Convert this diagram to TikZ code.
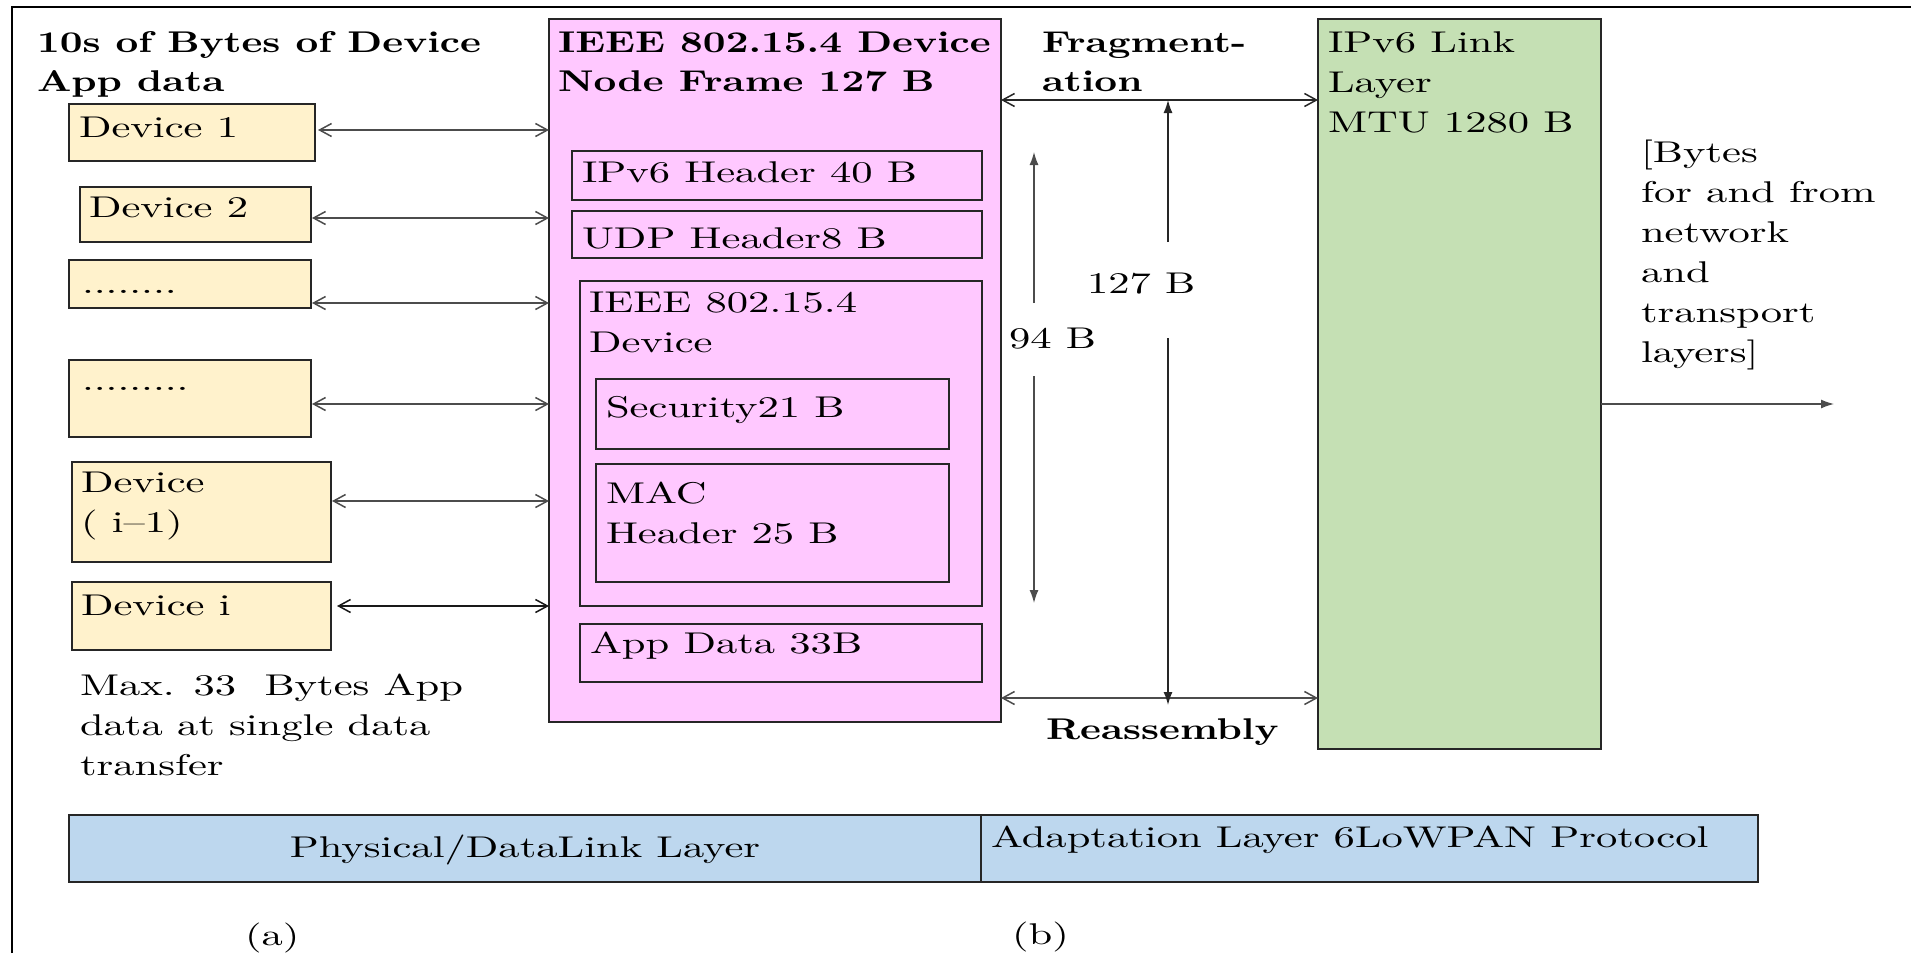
\documentclass[tikz,border=0pt]{standalone}
\usepackage{fontspec}
\setmainfont{lmroman10-regular.otf}[FakeStretch=1.42]
\newfontfamily\bfx{lmroman10-bold.otf}[FakeStretch=1.32]
\usetikzlibrary{arrows.meta}
\definecolor{devfill}{HTML}{FFF2CC}
\definecolor{pinkfill}{HTML}{FFC8FF}
\definecolor{greenfill}{HTML}{C5E0B4}
\definecolor{bluefill}{HTML}{BDD7EE}
\begin{document}
\begin{tikzpicture}[x=1pt,y=-1pt,
  box/.style={draw=black!85, line width=1.6pt, anchor=north west, inner sep=0pt, outer sep=0pt},
  devbox/.style={box, fill=devfill},
  txt/.style={inner sep=0pt, outer sep=0pt, anchor=base west, align=left, font=\fontsize{30}{40}\selectfont},
  btxt/.style={txt, font=\fontsize{30}{39}\selectfont\bfx},
  dbl/.style={draw=black!70, line width=1.5pt, {Straight Barb[length=12pt,width=13pt]}-{Straight Barb[length=12pt,width=13pt]}},
  tri/.style={draw=black!85, line width=1.3pt, -{Latex[length=13pt,width=9pt]}}]
\useasboundingbox (0,0) rectangle (1911,953);
% outer frame (cropped)
\draw[line width=2.4pt] (12,953) -- (12,7) -- (1911,7);

% left title (anchor = baseline of last line)
\node[btxt] (ttl) at (37,91) {10s of Bytes of Device\\App data};

% device boxes
\node[devbox, minimum width=246pt, minimum height=57pt] (d1) at (69,104) {};
\node[devbox, minimum width=231pt, minimum height=55pt] (d2) at (80,187) {};
\node[devbox, minimum width=242pt, minimum height=48pt] (d3) at (69,260) {};
\node[devbox, minimum width=242pt, minimum height=77pt] (d4) at (69,360) {};
\node[devbox, minimum width=259pt, minimum height=100pt] (d5) at (72,462) {};
\node[devbox, minimum width=259pt, minimum height=68pt] (d6) at (72,582) {};
\node[txt] (t1) at (79,137) {Device 1};
\node[txt] (t2) at (89,217) {Device 2};
\node[txt] (t3) at (82,293) {........};
\node[txt] (t4) at (82,390) {.........};
\node[txt] (t5) at (81,532) {Device\\( i–1)};
\node[txt] (t6) at (81,615) {Device i};
\node[txt] (maxt) at (80,775) {Max. 33~~Bytes App\\data at single data\\transfer};

% pink frame
\node[box, fill=pinkfill, minimum width=452pt, minimum height=703pt] (pink) at (549,19) {};
\node[btxt] (pinkt) at (558,91) {IEEE 802.15.4 Device\\Node Frame 127 B};
\node[box, minimum width=410pt, minimum height=49pt] (ipv6) at (572,151) {};
\node[txt] at (582,182) {IPv6 Header 40 B};
\node[box, minimum width=410pt, minimum height=47pt] (udp) at (572,211) {};
\node[txt] at (582,248) {UDP Header8 B};
\node[box, minimum width=402pt, minimum height=325pt] (ieee) at (580,281) {};
\node[txt] at (589,352) {IEEE 802.15.4\\Device};
\node[box, minimum width=353pt, minimum height=70pt] (sec) at (596,379) {};
\node[txt] at (606,417) {Security21 B};
\node[box, minimum width=353pt, minimum height=118pt] (mac) at (596,464) {};
\node[txt] at (606,543) {MAC\\Header 25 B};
\node[box, minimum width=402pt, minimum height=58pt] (app) at (580,624) {};
\node[txt] at (590,653) {App Data 33B};

% green box
\node[box, fill=greenfill, minimum width=283pt, minimum height=730pt] (green) at (1318,19) {};
\node[txt] (greent) at (1328,132) {IPv6 Link\\Layer\\MTU 1280 B};

% right labels
\node[btxt] (frag) at (1042,91) {Fragment-\\ation};
\node[btxt] (reas) at (1046,739) {Reassembly};
\node[txt] (l127) at (1087,293) {127 B};
\node[txt] (l94) at (1009,348) {94 B};
\node[txt] (bytes) at (1641,362) {[Bytes\\for and from\\network\\and\\ transport\\layers]};

% bottom layers
\node[box, fill=bluefill, minimum width=912pt, minimum height=67pt] (phys) at (69,815) {};
\node[txt, anchor=base] at (525,857) {Physical/DataLink Layer};
\node[box, fill=bluefill, minimum width=777pt, minimum height=67pt] (adapt) at (981,815) {};
\node[txt] at (991,847) {Adaptation Layer 6LoWPAN Protocol};
\node[txt] (la) at (245,945) {(a)};
\node[txt] (lb) at (1012,944) {(b)};

% helper coordinates
\coordinate (y1) at (0,130);
\coordinate (y2) at (0,218);
\coordinate (y3) at (0,303);
\coordinate (y4) at (0,404);
\coordinate (y5) at (0,501);
\coordinate (y6) at (0,606);
\coordinate (yfrag) at (0,100);
\coordinate (yreas) at (0,698);
\coordinate (yout) at (0,404);
\coordinate (out) at (1834,404);
\coordinate (v127a) at (1168,242);
\coordinate (v127b) at (1168,338);
\coordinate (v127c) at (1168,705);
\coordinate (v94a) at (1034,303);
\coordinate (v94ta) at (1034,152);
\coordinate (v94b) at (1034,376);
\coordinate (v94tb) at (1034,603);

% device arrows
\draw[dbl, shorten <=3pt] (d1.east |- y1) -- (pink.west |- y1);
\draw[dbl, shorten <=1pt] (d2.east |- y2) -- (pink.west |- y2);
\draw[dbl, shorten <=1pt] (d3.east |- y3) -- (pink.west |- y3);
\draw[dbl, shorten <=1pt] (d4.east |- y4) -- (pink.west |- y4);
\draw[dbl, shorten <=1pt] (d5.east |- y5) -- (pink.west |- y5);
\draw[dbl, draw=black!90, shorten <=6pt] (d6.east |- y6) -- (pink.west |- y6);

% fragmentation / reassembly
\draw[dbl, draw=black!85] (pink.east |- yfrag) -- (green.west |- yfrag);
\draw[dbl] (pink.east |- yreas) -- (green.west |- yreas);

% vertical size arrows
\draw[tri] (v127a) -- (v127a |- yfrag);
\draw[tri] (v127b) -- (v127c);
\draw[tri, draw=black!70] (v94a) -- (v94ta);
\draw[tri, draw=black!70] (v94b) -- (v94tb);

% output arrow
\draw[tri, draw=black!70] (green.east |- yout) -- (out);
\end{tikzpicture}
\end{document}
